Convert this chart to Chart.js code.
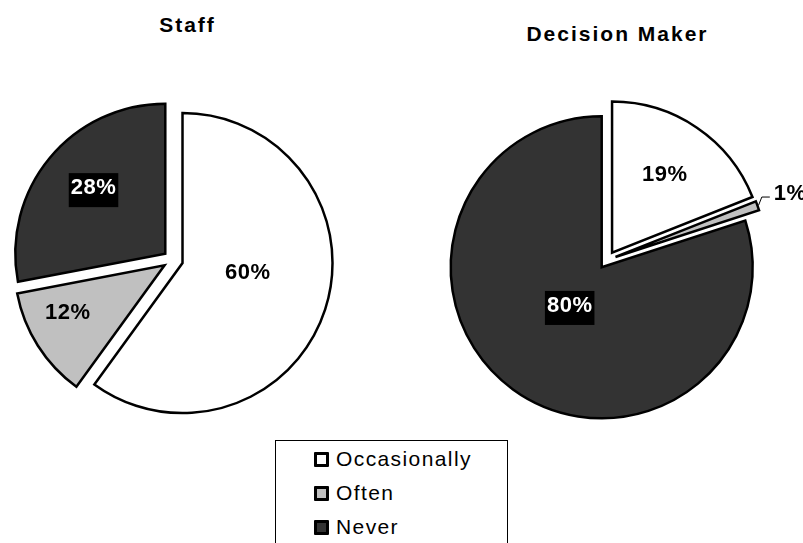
<!DOCTYPE html>
<html>
<head>
<meta charset="utf-8">
<title>Staff vs Decision Maker</title>
<script src="https://cdn.jsdelivr.net/npm/chart.js@4.4.0/dist/chart.umd.min.js"></script>
<style>
  body {
    margin: 0;
    width: 803px;
    height: 543px;
    overflow: hidden;
    position: relative;
    background: #fff;
    font-family: Arial, "Liberation Sans", sans-serif;
    color: #000;
  }
  .title {
    position: absolute;
    width: 240px;
    text-align: center;
    font-weight: bold;
    font-size: 21px;
    line-height: 21px;
    letter-spacing: 2px;
  }
  .pie { position: absolute; top: 0; height: 520px; }
  #legend {
    position: absolute;
    left: 275px;
    top: 440px;
    width: 233px;
    height: 120px;
    box-sizing: border-box;
    border: 1px solid #000;
    background: #fff;
  }
  #legend .item {
    position: absolute;
    left: 0;
    height: 34px;
    display: flex;
    align-items: center;
    font-size: 21px;
    letter-spacing: 1.4px;
    white-space: nowrap;
  }
  #legend .swatch {
    width: 15px;
    height: 15px;
    box-sizing: border-box;
    border: 3px solid #000;
    border-radius: 1px;
    margin-left: 38px;
    margin-right: 7px;
  }
</style>
</head>
<body>
<div class="title" style="left:67.5px; top:14px;">Staff</div>
<div class="title" style="left:497.5px; top:23px;">Decision Maker</div>

<div class="pie" style="left:0; width:346px;"><canvas id="staffChart"></canvas></div>
<div class="pie" style="left:411px; width:392px;"><canvas id="dmChart"></canvas></div>

<div id="legend"></div>

<script>
const categories = ['Occasionally', 'Often', 'Never'];
const staffValues = [60, 12, 28];
const decisionMakerValues = [19, 1, 80];

const sliceColors = ['#ffffff', '#c0c0c0', '#333333'];

// push every slice out from the centre along its middle angle
const explodePlugin = {
    id: 'explode',
    beforeDatasetsDraw(chart, args, opts) {
        const area = chart.chartArea;
        const cx = (area.left + area.right) / 2;
        const cy = (area.top + area.bottom) / 2;
        chart.getDatasetMeta(0).data.forEach(arc => {
            const mid = (arc.startAngle + arc.endAngle) / 2;
            arc.x = cx + Math.cos(mid) * opts.distance;
            arc.y = cy + Math.sin(mid) * opts.distance;
        });
    }
};

// percentage labels; dark slices get a black box with white text
const sliceLabelPlugin = {
    id: 'sliceLabels',
    afterDatasetsDraw(chart, args, opts) {
        const ctx = chart.ctx;
        const values = chart.data.datasets[0].data;
        const total = values.reduce((a, b) => a + b, 0);
        ctx.save();
        ctx.font = 'bold 22px Arial, "Liberation Sans", sans-serif';
        ctx.letterSpacing = '0.5px';
        ctx.textAlign = 'center';
        ctx.textBaseline = 'middle';
        chart.getDatasetMeta(0).data.forEach((arc, i) => {
            const place = opts.place[i];
            const angle = (arc.startAngle + arc.endAngle) / 2 + place.turn * Math.PI / 180;
            const dist = arc.outerRadius * place.at;
            const x = arc.x + Math.cos(angle) * dist;
            const y = arc.y + Math.sin(angle) * dist;
            const text = Math.round(values[i] / total * 100) + '%';
            const w = ctx.measureText(text).width;

            if (place.leader) {
                const mid = (arc.startAngle + arc.endAngle) / 2;
                const sx = arc.x + Math.cos(mid) * (arc.outerRadius + 1);
                const sy = arc.y + Math.sin(mid) * (arc.outerRadius + 1);
                const ex = x - w / 2 - 4;
                const ey = y + 3;
                ctx.beginPath();
                ctx.moveTo(sx, sy);
                ctx.lineTo(ex - 8, ey);
                ctx.lineTo(ex, ey);
                ctx.lineWidth = 1;
                ctx.strokeStyle = '#000';
                ctx.stroke();
            }

            if (place.boxed) {
                ctx.fillStyle = '#000';
                ctx.fillRect(x - w / 2 - 2, y - 14.5, w + 4, 34);
                ctx.fillStyle = '#fff';
            } else {
                ctx.fillStyle = '#000';
            }
            ctx.fillText(text, x, y);
        });
        ctx.restore();
    }
};

function makePie(canvasId, values, radius, explode, place) {
    return new Chart(document.getElementById(canvasId), {
        type: 'pie',
        data: {
            labels: categories,
            datasets: [{
                data: values,
                backgroundColor: sliceColors,
                borderColor: '#000000',
                borderWidth: 2.5,
                borderJoinStyle: 'miter',
                radius: radius
            }]
        },
        options: {
            responsive: true,
            maintainAspectRatio: false,
            animation: false,
            events: [],
            layout: { padding: 0 },
            plugins: {
                legend: { display: false },
                tooltip: { enabled: false },
                explode: { distance: explode },
                sliceLabels: { place: place }
            }
        },
        plugins: [explodePlugin, sliceLabelPlugin]
    });
}

makePie('staffChart', staffValues, 150, 10, [
    { at: 0.44, turn: -9 },
    { at: 0.72, turn: 6 },
    { at: 0.65, turn: 3, boxed: true }
]);

makePie('dmChart', decisionMakerValues, 151, 9, [
    { at: 0.62, turn: 0 },
    { at: 1.23, turn: 0, leader: true },
    { at: 0.33, turn: 4, boxed: true }
]);

// legend box under the two pies
const legend = document.getElementById('legend');
categories.forEach((name, i) => {
    const row = document.createElement('div');
    row.className = 'item';
    row.style.top = (1 + i * 34) + 'px';
    const swatch = document.createElement('span');
    swatch.className = 'swatch';
    swatch.style.background = sliceColors[i];
    const label = document.createElement('span');
    label.textContent = name;
    row.appendChild(swatch);
    row.appendChild(label);
    legend.appendChild(row);
});
</script>
</body>
</html>
